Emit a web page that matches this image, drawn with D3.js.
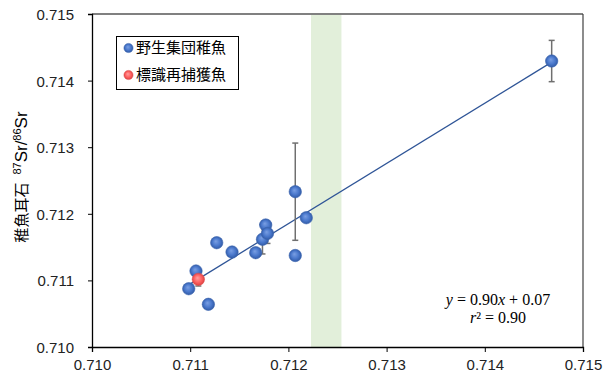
<!DOCTYPE html>
<html>
<head>
<meta charset="utf-8">
<script src="https://cdn.jsdelivr.net/npm/d3@7/dist/d3.min.js"></script>
<style>
  html, body { margin: 0; padding: 0; background: #fff; }
  svg { display: block; }
</style>
</head>
<body>
<svg id="chart" width="603" height="373"></svg>
<script>
// Wild juvenile otolith 87Sr/86Sr (x: water / reference, y: otolith)
const wildX = [0.710985, 0.711059, 0.711185, 0.711270, 0.711426, 0.711667, 0.711736,
               0.711769, 0.711787, 0.712070, 0.712182, 0.712070, 0.714681];
const wildY = [0.710875, 0.711141, 0.710641, 0.711566, 0.711426, 0.711416, 0.711617,
               0.711832, 0.711705, 0.712332, 0.711941, 0.711374, 0.714294];
const wildErr = [0, 0, 0, 0, 0, 0, 0.00022, 0, 0.00015, 0.00073, 0, 0, 0.00031];

// Tagged and recaptured fish
const tagX = [0.711083];
const tagY = [0.711016];
const tagErr = [0.00010];

// Shaded reference band
const bandRange = [0.71223, 0.71254];

const xTicks = [0.710, 0.711, 0.712, 0.713, 0.714, 0.715];
const yTicks = [0.710, 0.711, 0.712, 0.713, 0.714, 0.715];

const legendLabels = ["野生集団稚魚", "標識再捕獲魚"];

const svg = d3.select("#chart");
const m = { left: 92, right: 583, top: 14, bottom: 347 };

const x = d3.scaleLinear().domain([0.710, 0.715]).range([m.left, m.right]);
const y = d3.scaleLinear().domain([0.710, 0.715]).range([m.bottom, m.top]);

// gradients for the glossy markers
const defs = svg.append("defs");
function ball(id, c0, c1, c2) {
  const g = defs.append("radialGradient").attr("id", id)
    .attr("cx", "50%").attr("cy", "50%").attr("r", "55%")
    .attr("fx", "42%").attr("fy", "38%");
  g.append("stop").attr("offset", "0%").attr("stop-color", c0);
  g.append("stop").attr("offset", "55%").attr("stop-color", c1);
  g.append("stop").attr("offset", "100%").attr("stop-color", c2);
}
ball("gBlue", "#7a9fe3", "#4a78cc", "#2d559e");
ball("gRed", "#ffa0a0", "#ff6262", "#d63c3c");

// shaded band
svg.append("rect")
  .attr("x", x(bandRange[0])).attr("y", m.top)
  .attr("width", x(bandRange[1]) - x(bandRange[0]))
  .attr("height", m.bottom - m.top)
  .attr("fill", "#e2efda");

// frame: top grey, right dark
svg.append("line").attr("x1", m.left).attr("x2", m.right).attr("y1", m.top).attr("y2", m.top)
  .attr("stroke", "#808080").attr("stroke-width", 2);
svg.append("line").attr("x1", m.right).attr("x2", m.right).attr("y1", m.top).attr("y2", m.bottom)
  .attr("stroke", "#404040").attr("stroke-width", 1.2);

// axes
const fontSans = "'Liberation Sans', Arial, sans-serif";
const xAxis = svg.append("g").attr("transform", `translate(0,${m.bottom})`)
  .call(d3.axisBottom(x).tickValues(xTicks).tickFormat(d3.format(".3f")).tickSize(5).tickPadding(7));
const yAxis = svg.append("g").attr("transform", `translate(${m.left},0)`)
  .call(d3.axisLeft(y).tickValues(yTicks).tickFormat(d3.format(".3f")).tickSize(4).tickPadding(14));
[xAxis, yAxis].forEach(a => {
  a.select(".domain").attr("stroke", "#000").attr("stroke-width", 1.3);
  a.selectAll(".tick line").attr("stroke", "#000").attr("stroke-width", 1);
  a.selectAll(".tick text").attr("fill", "#222").style("font-family", fontSans).style("font-size", "15px");
});
yAxis.selectAll(".tick text").attr("dy", "0.36em");

// regression line (least squares over all fish)
const allX = wildX.concat(tagX), allY = wildY.concat(tagY);
const mx = d3.mean(allX), my = d3.mean(allY);
const slope = d3.sum(allX, (v, i) => (v - mx) * (allY[i] - my)) / d3.sum(allX, v => (v - mx) * (v - mx));
const icpt = my - slope * mx;
const [x0, x1] = d3.extent(allX);
svg.append("line")
  .attr("x1", x(x0)).attr("y1", y(slope * x0 + icpt))
  .attr("x2", x(x1)).attr("y2", y(slope * x1 + icpt))
  .attr("stroke", "#2f5597").attr("stroke-width", 1.3);

// error bars
function errBars(xs, ys, es) {
  const d = xs.map((v, i) => ({ x: v, y: ys[i], e: es[i] })).filter(p => p.e > 0);
  const g = svg.append("g").attr("stroke", "#6f6f6f").attr("stroke-width", 1.5);
  d.forEach(p => {
    g.append("line").attr("x1", x(p.x)).attr("x2", x(p.x)).attr("y1", y(p.y - p.e)).attr("y2", y(p.y + p.e));
    [p.y - p.e, p.y + p.e].forEach(v =>
      g.append("line").attr("x1", x(p.x) - 3).attr("x2", x(p.x) + 3).attr("y1", y(v)).attr("y2", y(v)));
  });
}
errBars(wildX, wildY, wildErr);
errBars(tagX, tagY, tagErr);

// points
svg.append("g").selectAll("circle").data(wildX).join("circle")
  .attr("cx", d => x(d)).attr("cy", (d, i) => y(wildY[i])).attr("r", 6.2)
  .attr("fill", "url(#gBlue)").attr("stroke", "#3b64b0").attr("stroke-width", 0.6);
svg.append("g").selectAll("circle").data(tagX).join("circle")
  .attr("cx", d => x(d)).attr("cy", (d, i) => y(tagY[i])).attr("r", 6.2)
  .attr("fill", "url(#gRed)").attr("stroke", "#e05050").attr("stroke-width", 0.6);

// legend
const fontCJK = "'Noto Sans CJK JP', 'Noto Sans CJK SC', sans-serif";
const lg = svg.append("g");
lg.append("rect").attr("x", 116.5).attr("y", 36.5).attr("width", 122).attr("height", 53)
  .attr("fill", "#fff").attr("stroke", "#000").attr("stroke-width", 1);
legendLabels.forEach((t, i) => {
  const cy = 48 + i * 27;
  lg.append("circle").attr("cx", 128.5).attr("cy", cy).attr("r", 4.6)
    .attr("fill", i === 0 ? "url(#gBlue)" : "url(#gRed)")
    .attr("stroke", i === 0 ? "#3b64b0" : "#e05050").attr("stroke-width", 0.5);
  lg.append("text").attr("x", 136).attr("y", cy).attr("dy", "0.36em")
    .style("font-family", fontCJK).style("font-size", "15px").attr("fill", "#000").text(t);
});

// y axis title
const yt = svg.append("text")
  .attr("transform", "translate(27,177) rotate(-90)")
  .attr("text-anchor", "middle")
  .style("font-family", fontSans).attr("fill", "#000");
yt.append("tspan").style("font-family", fontCJK).style("font-size", "15px").text("稚魚耳石");
yt.append("tspan").style("font-size", "11px").attr("dx", 8).attr("dy", -6).text("87");
yt.append("tspan").style("font-size", "17px").attr("dy", 6).text("Sr/");
yt.append("tspan").style("font-size", "11px").attr("dy", -6).text("86");
yt.append("tspan").style("font-size", "17px").attr("dy", 6).text("Sr");

// regression equation
const eq = svg.append("g").style("font-family", "'Liberation Serif', 'Times New Roman', serif")
  .style("font-size", "16px").attr("fill", "#000");
const e1 = eq.append("text").attr("x", 498).attr("y", 305).attr("text-anchor", "middle");
e1.append("tspan").style("font-style", "italic").text("y");
e1.append("tspan").text(" = 0.90");
e1.append("tspan").style("font-style", "italic").text("x");
e1.append("tspan").text(" + 0.07");
const e2 = eq.append("text").attr("x", 498).attr("y", 323).attr("text-anchor", "middle");
e2.append("tspan").style("font-style", "italic").text("r");
e2.append("tspan").text("² = 0.90");
</script>
</body>
</html>
